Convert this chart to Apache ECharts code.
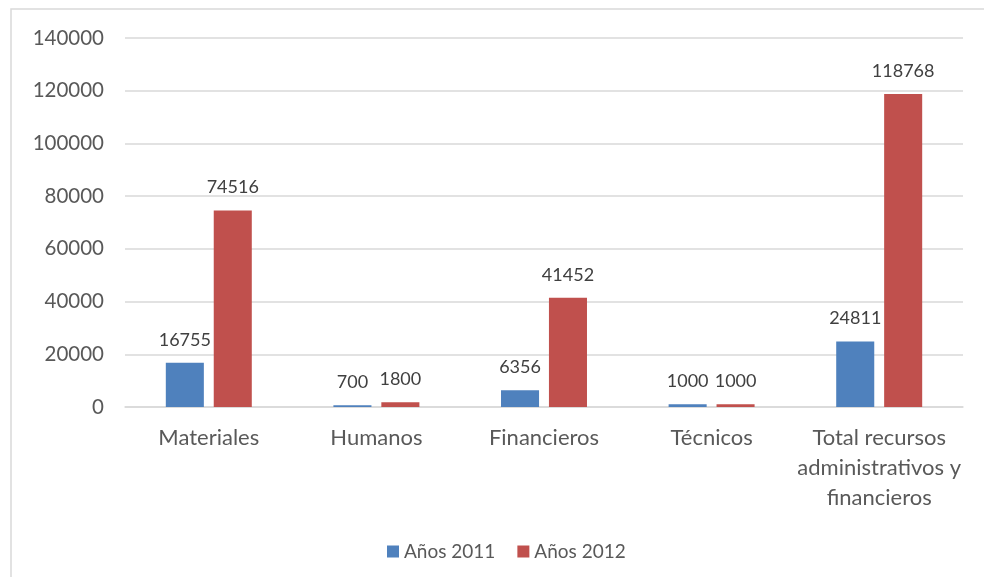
<!DOCTYPE html>
<html>
<head>
<meta charset="utf-8">
<script src="https://cdn.jsdelivr.net/npm/echarts@6/dist/echarts.min.js"></script>
<style>
  html, body { margin: 0; padding: 0; background: #fff; }
  #chart { width: 984px; height: 577px; }
</style>
</head>
<body>
<div id="chart"></div>
<script>
const categories = ['Materiales', 'Humanos', 'Financieros', 'Técnicos', 'Total recursos\nadministrativos y\nfinancieros'];
const years2011 = [16755, 700, 6356, 1000, 24811];
const years2012 = [74516, 1800, 41452, 1000, 118768];
const seriesNames = ['Años 2011', 'Años 2012'];

const chart = echarts.init(document.getElementById('chart'), null, { renderer: 'canvas' });

const labelStyle = {
  show: true,
  position: 'top',
  distance: 14,
  color: '#404040',
  fontSize: 18,
  fontFamily: 'Lato'
};

chart.setOption({
  animation: false,
  textStyle: { fontFamily: 'Lato' },
  graphic: [{
    type: 'rect',
    shape: { x: 11, y: 9, width: 1000, height: 600 },
    style: { fill: 'none', stroke: '#d9d9d9', lineWidth: 1.5 },
    silent: true
  }],
  grid: { left: 125, right: 21, top: 38, bottom: 170 },
  legend: {
    left: 382,
    top: 537,
    itemWidth: 12,
    itemHeight: 12,
    itemGap: 22,
    icon: 'rect',
    textStyle: { color: '#595959', fontSize: 19, fontFamily: 'Lato' },
    data: seriesNames
  },
  xAxis: {
    type: 'category',
    data: categories,
    axisLine: { lineStyle: { color: '#d9d9d9', width: 1.5 } },
    axisTick: { show: false },
    axisLabel: { color: '#595959', fontSize: 22, fontFamily: 'Lato', margin: 16, lineHeight: 30, interval: 0 }
  },
  yAxis: {
    type: 'value',
    min: 0,
    max: 140000,
    interval: 20000,
    axisLine: { show: false },
    axisTick: { show: false },
    splitLine: { lineStyle: { color: '#d9d9d9', width: 1.5 } },
    axisLabel: { color: '#595959', fontSize: 20.5, fontFamily: 'Lato', margin: 21, formatter: v => String(v) }
  },
  series: [
    {
      name: seriesNames[0],
      type: 'bar',
      data: years2011,
      barWidth: '22.7%',
      barGap: '26%',
      itemStyle: { color: '#4f81bd' },
      label: labelStyle
    },
    {
      name: seriesNames[1],
      type: 'bar',
      data: years2012,
      barWidth: '22.7%',
      itemStyle: { color: '#c0504d' },
      label: labelStyle
    }
  ]
});
</script>
</body>
</html>
